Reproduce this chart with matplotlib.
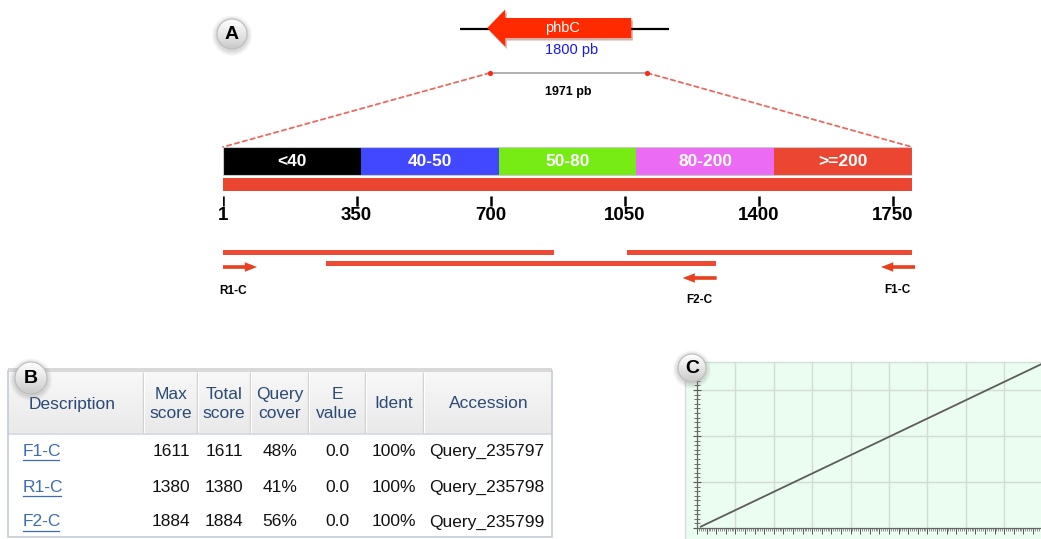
import numpy as np
import matplotlib
matplotlib.use("Agg")
import matplotlib.pyplot as plt
from matplotlib.patches import Rectangle, Circle, FancyArrow, ConnectionPatch
from matplotlib.colors import LinearSegmentedColormap
from matplotlib.textpath import TextPath
from matplotlib.font_manager import FontProperties
from matplotlib.ticker import MultipleLocator

plt.rcParams["font.family"] = ["Liberation Sans", "DejaVu Sans"]

# ----------------------------------------------------------------------
# data
# ----------------------------------------------------------------------
GENE_NAME = "phbC"
GENE_LEN = 1800          # pb
AMPLICON_LEN = 1971      # pb

score_bins = ["<40", "40-50", "50-80", "80-200", ">=200"]
score_colors = ["#000000", "#4248ff", "#76ec14", "#ec6bf4", "#ea4632"]
axis_ticks = [1, 350, 700, 1050, 1400, 1750]

# BLAST hits on the gene (query coordinates)
hit_start = [1, 1055, 270]
hit_end = [865, 1800, 1288]

# sequencing primers
primer_names = ["R1-C", "F2-C", "F1-C"]
primer_tail = [1, 1290, 1808]
primer_strand = [1, -1, -1]
PRIMER_LEN = 89

# BLAST result table
table_header = ["Description", "Max\nscore", "Total\nscore", "Query\ncover",
                "E\nvalue", "Ident", "Accession"]
hit_desc = ["F1-C", "R1-C", "F2-C"]
max_score = [1611, 1380, 1884]
total_score = [1611, 1380, 1884]
query_cover = [48, 41, 56]
e_value = [0.0, 0.0, 0.0]
ident = [100, 100, 100]
accession = ["Query_235797", "Query_235798", "Query_235799"]

# dot plot (query vs subject)
dot_x = [20, 1792]
dot_y = [3, 356]

# ----------------------------------------------------------------------
# figure helpers (pixel layout)
# ----------------------------------------------------------------------
W, H = 1041, 539
DPI = 100


def px_rect(x0, y0, x1, y1):
    return [x0 / W, 1 - y1 / H, (x1 - x0) / W, (y1 - y0) / H]


def overlay(rect, xlim, zorder):
    ax = fig.add_axes(rect, zorder=zorder)
    ax.set_xlim(*xlim)
    ax.set_ylim(H, 0)
    ax.patch.set_alpha(0)
    ax.axis("off")
    return ax


def text_width_px(s, size, weight="normal"):
    fp = FontProperties(family="Liberation Sans", weight=weight)
    return TextPath((0, 0), s, size=size, prop=fp).get_extents().width * DPI / 72


fig = plt.figure(figsize=(W / DPI, H / DPI), dpi=DPI)
base = overlay([0, 0, 1, 1], (0, W), 0)

# ----------------------------------------------------------------------
# A : gene schematic
# ----------------------------------------------------------------------
axg = overlay(px_rect(460, 0, 669, H), (0, 2612), 3)
axg.plot([0, 2612], [29, 29], color="black", lw=1.6, zorder=1)
g_tail = 340 + GENE_LEN
axg.add_patch(FancyArrow(g_tail + 20, 30.5, -GENE_LEN, 0, width=20, head_width=37,
                         head_length=225, length_includes_head=True,
                         color="#8a1a0a", alpha=0.35, lw=0, zorder=2))
axg.add_patch(FancyArrow(g_tail, 28, -GENE_LEN, 0, width=20, head_width=37,
                         head_length=225, length_includes_head=True,
                         color="#ff2a00", lw=0, zorder=3))
axg.text(1275, 28, GENE_NAME, color="white", fontsize=10.5, ha="center", va="center",
         zorder=4)
axg.text(1400, 50, f"{GENE_LEN} pb", color="#1515ff", fontsize=10.5, ha="center",
         va="center")

amp0 = 370
axg.plot([amp0, amp0 + AMPLICON_LEN], [73, 73], color="#9a9a9a", lw=1.1, zorder=2)
axg.scatter([amp0, amp0 + AMPLICON_LEN], [73, 73], s=14, color="#ff2a12", zorder=3,
            linewidths=0)
axg.text(amp0 + AMPLICON_LEN / 2, 92, f"{AMPLICON_LEN} pb", fontsize=9, weight="bold",
         ha="center", va="center")

# ----------------------------------------------------------------------
# A : score key, query bar, hits and primers
# ----------------------------------------------------------------------
axa = overlay(px_rect(223, 0, 912, H), (1, GENE_LEN), 2)
edges = np.linspace(1, GENE_LEN, len(score_bins) + 1)
axa.barh(161, np.diff(edges), left=edges[:-1], height=28, color=score_colors, lw=0)
axa.add_patch(Rectangle((1, 147), GENE_LEN - 1, 28, fill=False, ec="#c8c8c8", lw=0.8))
for x0, x1, lab in zip(edges[:-1], edges[1:], score_bins):
    axa.text((x0 + x1) / 2, 162, lab, color="white", fontsize=12.5, weight="bold",
             ha="center", va="center")

axa.barh(184.5, GENE_LEN - 1, left=1, height=13, color="#ea4530", lw=0)
axa.vlines(axis_ticks, 196, 206, color="black", lw=1.8)
for t in axis_ticks:
    axa.text(t, 216, str(t), fontsize=13.5, weight="bold", ha="center", va="center")

hit_y = [252.5, 252.5, 263.5]
for s, e, y in zip(hit_start, hit_end, hit_y):
    axa.barh(y, e - s, left=s, height=5, color="#ec4a35", lw=0, clip_on=False)

primer_y = [267, 278, 267]
label_y = [291, 300, 290]
label_x = [27, 1245, 1763]
for name, tail, strand, y, lx, ly in zip(primer_names, primer_tail, primer_strand,
                                         primer_y, label_x, label_y):
    axa.add_patch(FancyArrow(tail, y, strand * PRIMER_LEN, 0, width=3.6, head_width=9.5,
                             head_length=32, length_includes_head=True,
                             color="#e8401f", lw=0, clip_on=False))
    axa.text(lx, ly, name, fontsize=8.5, weight="bold", ha="center", va="center")

# zoom lines from the amplicon to the query bar
for xa, xb in ((amp0, 1), (amp0 + AMPLICON_LEN, GENE_LEN)):
    con = ConnectionPatch(xyA=(xa, 73), coordsA=axg.transData,
                          xyB=(xb, 147), coordsB=axa.transData,
                          color="#e86a60", lw=1.3, ls=(0, (2.5, 2)), zorder=1)
    fig.add_artist(con)

# ----------------------------------------------------------------------
# B : BLAST table
# ----------------------------------------------------------------------
TL, TR, TT, HB, TB = 8, 552, 371, 434, 537
hdr_cmap = LinearSegmentedColormap.from_list("hdr", ["#f8f8f8", "#e9e9e9"])
base.imshow(np.linspace(0, 1, 64)[:, None], cmap=hdr_cmap, aspect="auto",
            extent=(TL, TR, HB, TT), zorder=1)
base.add_patch(Rectangle((TL, TT - 3), TR - TL, 4, color="#d9d9d9", lw=0, zorder=2))
sep_x = [143, 197, 250, 308, 365, 423]
base.vlines(sep_x, TT + 1, HB, color="#d0d0d0", lw=1, zorder=2)
base.vlines(np.array(sep_x) + 1, TT + 1, HB, color="white", lw=0.8, zorder=2)
base.hlines(HB, TL, TR, color="#d3d9e1", lw=1.2, zorder=2)
base.plot([TL, TL, TR, TR], [TT, TB, TB, TT], color="#c3ccd8", lw=1.2, zorder=2)

col_x = [72, 171, 224, 280, 337, 394, 489]
for x, h in zip(col_x, table_header):
    base.text(x, 404, h, fontsize=12.5, color="#2b4a75", ha="center", va="center",
              linespacing=1.3, zorder=3)

row_y = [451, 487, 522]
data_x = [171, 224, 280, 337, 394, 487]
for i, y in enumerate(row_y):
    w = text_width_px(hit_desc[i], 12.5)
    base.text(23, y, hit_desc[i], fontsize=12.5, color="#3b6cb4", ha="left", va="center")
    base.plot([23, 23 + w], [y + 8.5, y + 8.5], color="#3b6cb4", lw=0.9)
    cells = [str(max_score[i]), str(total_score[i]), f"{query_cover[i]}%",
             f"{e_value[i]:.1f}", f"{ident[i]}%", accession[i]]
    for x, c in zip(data_x, cells):
        base.text(x, y, c, fontsize=12.5, color="#111111", ha="center", va="center")

# ----------------------------------------------------------------------
# C : dot plot
# ----------------------------------------------------------------------
base.add_patch(Rectangle((685, 362), W - 685, H - 362, fc="#ebfcf0", ec="none", zorder=1))
base.plot([685, 685, W], [H, 362, 362], color="#d4dfd8", lw=1, zorder=2)

axc = fig.add_axes(px_rect(697, 362, W, 528), zorder=2)
axc.patch.set_alpha(0)
axc.set_xlim(0, 1792)
axc.set_ylim(0, 361)
axc.vlines(np.arange(200, 1792, 200), 0, 361, color="#d3ddd6", lw=1, zorder=0)
axc.hlines(np.arange(100, 361, 100), 0, 1792, color="#d3ddd6", lw=1, zorder=0)
axc.plot(dot_x, dot_y, color="#5c5c5c", lw=1.3)
for side in ("top", "right"):
    axc.spines[side].set_visible(False)
for side in ("left", "bottom"):
    axc.spines[side].set_color("#666666")
    axc.spines[side].set_linewidth(0.9)
axc.xaxis.set_major_locator(MultipleLocator(50))
axc.xaxis.set_minor_locator(MultipleLocator(10))
axc.yaxis.set_major_locator(MultipleLocator(100))
axc.yaxis.set_minor_locator(MultipleLocator(10))
axc.tick_params(axis="x", which="major", direction="out", length=4, width=0.7,
                color="#555555", labelbottom=False)
axc.tick_params(axis="x", which="minor", direction="out", length=2.2, width=0.5,
                color="#666666")
axc.tick_params(axis="y", which="major", direction="inout", length=6, width=0.8,
                color="#555555", labelleft=False)
axc.tick_params(axis="y", which="minor", direction="inout", length=4, width=0.6,
                color="#555555")

# ----------------------------------------------------------------------
# panel letters
# ----------------------------------------------------------------------
top = overlay([0, 0, 1, 1], (0, W), 10)
disc_cmap = LinearSegmentedColormap.from_list("disc", ["#ffffff", "#e6e6e6", "#c9c9c9"])
for cx, cy, r, letter in ((232, 34, 15, "A"), (31, 378, 16, "B"), (692, 368, 14, "C")):
    for k in range(5, 0, -1):
        top.add_patch(Circle((cx, cy + 1.5), r + k, color="#777777", alpha=0.06, lw=0))
    disc = Circle((cx, cy), r, fc="none", ec="#bdbdbd", lw=0.8, zorder=3)
    top.add_patch(disc)
    img = top.imshow(np.linspace(0, 1, 64)[:, None], cmap=disc_cmap, aspect="auto",
                     extent=(cx - r, cx + r, cy + r, cy - r), zorder=2)
    img.set_clip_path(disc)
    top.text(cx, cy + 0.5, letter, fontsize=14, weight="bold", ha="center", va="center",
             zorder=4)

for ax in (base, top):
    ax.set_xlim(0, W)
    ax.set_ylim(H, 0)

fig.savefig("out.png", dpi=DPI)
